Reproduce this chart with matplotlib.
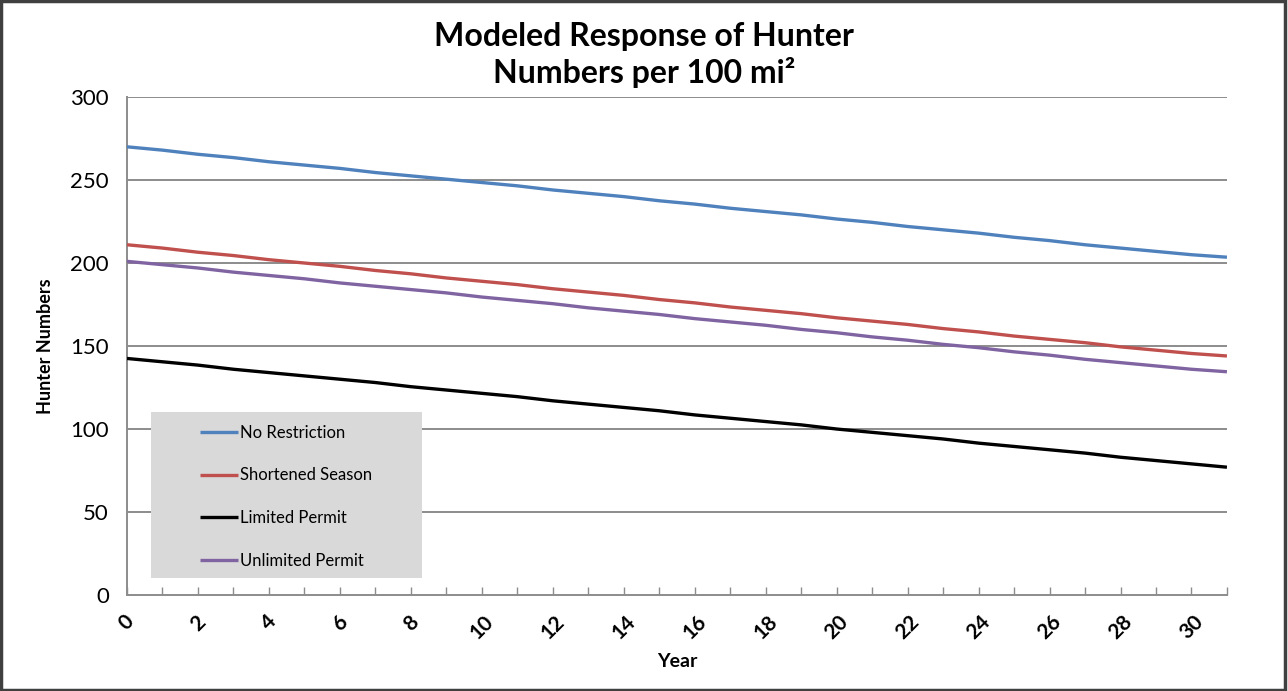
import matplotlib
matplotlib.use("Agg")
import matplotlib.pyplot as plt
from matplotlib.patches import Rectangle

plt.rcParams["font.family"] = ["Lato", "DejaVu Sans"]

# ---------------------------------------------------------------- data
years = list(range(32))
no_restriction = [270, 268, 265.5, 263.5, 261, 259, 257, 254.5, 252.5, 250.5,
                  248.5, 246.5, 244, 242, 240, 237.5, 235.5, 233, 231, 229,
                  226.5, 224.5, 222, 220, 218, 215.5, 213.5, 211, 209, 207,
                  205, 203.5]
shortened_season = [211, 209, 206.5, 204.5, 202, 200, 198, 195.5, 193.5, 191,
                    189, 187, 184.5, 182.5, 180.5, 178, 176, 173.5, 171.5, 169.5,
                    167, 165, 163, 160.5, 158.5, 156, 154, 152, 149.5, 147.5,
                    145.5, 144]
limited_permit = [142.5, 140.5, 138.5, 136, 134, 132, 130, 128, 125.5, 123.5,
                  121.5, 119.5, 117, 115, 113, 111, 108.5, 106.5, 104.5, 102.5,
                  100, 98, 96, 94, 91.5, 89.5, 87.5, 85.5, 83, 81, 79, 77]
unlimited_permit = [201, 199, 197, 194.5, 192.5, 190.5, 188, 186, 184, 182,
                    179.5, 177.5, 175.5, 173, 171, 169, 166.5, 164.5, 162.5, 160,
                    158, 155.5, 153.5, 151, 149, 146.5, 144.5, 142, 140, 138,
                    136, 134.5]

series = [
    ("No Restriction", no_restriction, "#4F81BD"),
    ("Shortened Season", shortened_season, "#C0504D"),
    ("Limited Permit", limited_permit, "#000000"),
    ("Unlimited Permit", unlimited_permit, "#8064A2"),
]

y_ticks = [0, 50, 100, 150, 200, 250, 300]
x_labels = [str(y) if y % 2 == 0 else "" for y in years]

# ---------------------------------------------------------------- figure
fig = plt.figure(figsize=(12.88, 6.91), dpi=100)
ax = fig.add_axes([0.0986, 0.1389, 0.854, 0.7207])

for y in y_ticks[1:]:
    ax.axhline(y, color="#8c8c8c", lw=1.4, zorder=1)

for name, vals, col in series:
    ax.plot(years, vals, color=col, lw=2.4, label=name, zorder=3,
            solid_capstyle="butt")

ax.set_xlim(0, 31)
ax.set_ylim(0, 300)
ax.set_yticks(y_ticks)
ax.set_xticks(years)
ax.set_xticklabels(x_labels, rotation=45, ha="center", va="top",
                   fontsize=15, fontweight="bold")
ax.tick_params(axis="y", length=0, labelsize=16, pad=13)
ax.tick_params(axis="x", length=6, width=1, color="#8c8c8c", pad=12,
               direction="in")

for s in ("top", "right"):
    ax.spines[s].set_visible(False)
for s in ("left", "bottom"):
    ax.spines[s].set_color("#8c8c8c")
    ax.spines[s].set_linewidth(1.4)

ax.set_xlabel("Year", fontsize=14, fontweight="bold", labelpad=7)
ax.set_ylabel("Hunter Numbers", fontsize=13, fontweight="bold", labelpad=12)

# legend box
ax.add_patch(Rectangle((0.0218, 0.034), 0.246, 0.333, transform=ax.transAxes,
                       facecolor="#d9d9d9", edgecolor="none", zorder=4))
leg = ax.legend(loc="upper left", bbox_to_anchor=(0.066, 0.342),
                frameon=False, fontsize=12, handlelength=2.3,
                handletextpad=0.1, labelspacing=1.6, borderpad=0,
                borderaxespad=0)
leg.set_zorder(5)

fig.text(0.5, 1 - 22 / 691, "Modeled Response of Hunter\nNumbers per 100 mi\u00b2",
         ha="center", va="top", fontsize=23, fontweight="bold", linespacing=1.25)

fig.add_artist(Rectangle((0.001, 0.002), 0.997, 0.996, transform=fig.transFigure,
                         facecolor="none", edgecolor="#404040", lw=2.5))

fig.savefig("out.png", dpi=100)
